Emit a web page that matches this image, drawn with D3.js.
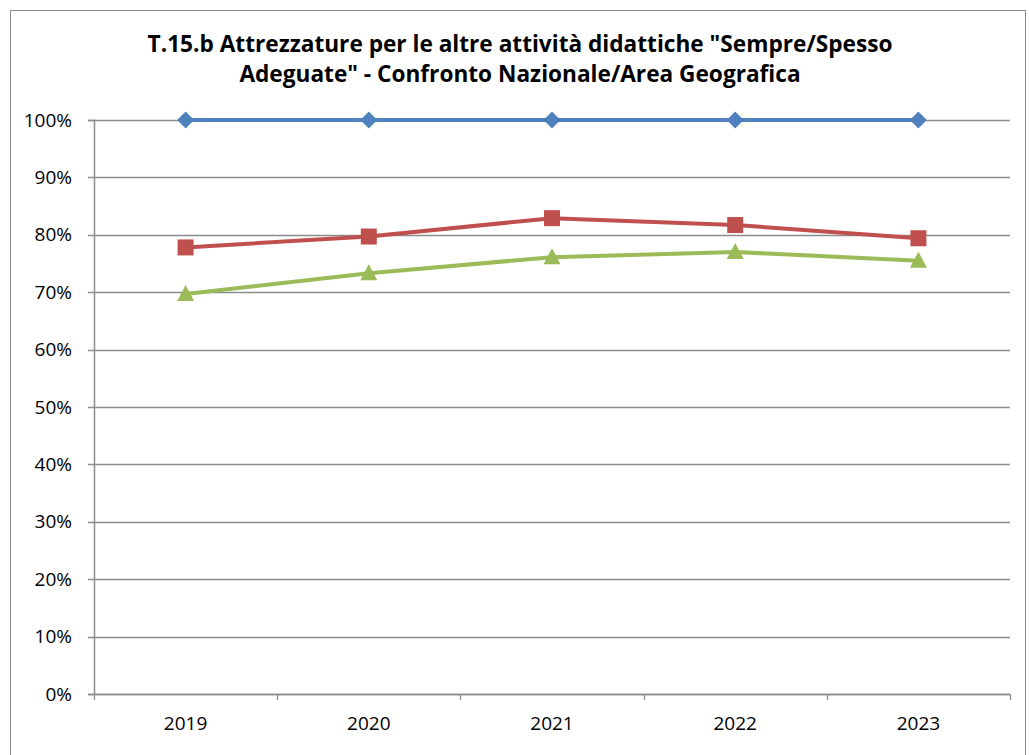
<!DOCTYPE html>
<html>
<head>
<meta charset="utf-8">
<script src="https://cdn.jsdelivr.net/npm/d3@7"></script>
<style>
  body { margin: 0; background: #fff; }
  svg { display: block; font-family: "Open Sans", sans-serif; }
</style>
</head>
<body>
<svg id="chart" width="1029" height="755"></svg>
<script>
const years = ['2019', '2020', '2021', '2022', '2023'];
const nazionale = [1.0, 1.0, 1.0, 1.0, 1.0];
const area = [0.778, 0.797, 0.829, 0.817, 0.794];
const regione = [0.697, 0.733, 0.761, 0.770, 0.755];
const yTicks = [0, 0.1, 0.2, 0.3, 0.4, 0.5, 0.6, 0.7, 0.8, 0.9, 1.0];
const titleLines = ['T.15.b Attrezzature per le altre attività didattiche "Sempre/Spesso', 'Adeguate" - Confronto Nazionale/Area Geografica'];

const series = [
  { name: 'Nazionale', values: nazionale, color: '#4F81BD', shape: 'diamond' },
  { name: 'Area', values: area, color: '#C0504D', shape: 'square' },
  { name: 'Regione', values: regione, color: '#9BBB59', shape: 'triangle' }
];

const svg = d3.select('#chart');

// outer chart frame
svg.append('rect')
  .attr('x', 10.5).attr('y', 10.5)
  .attr('width', 1015).attr('height', 760)
  .attr('fill', '#fff')
  .attr('stroke', '#8c8c8c')
  .attr('stroke-width', 1);

const margin = { top: 120, right: 19, bottom: 61, left: 94 };
const width = 1029 - margin.left - margin.right;
const height = 755 - margin.top - margin.bottom;

const g = svg.append('g')
  .attr('transform', `translate(${margin.left},${margin.top})`);

const x = d3.scaleBand()
  .domain(years)
  .range([0, width]);

const y = d3.scaleLinear()
  .domain([0, 1])
  .range([height, 0]);

// gridlines
g.append('g')
  .selectAll('line')
  .data(yTicks)
  .join('line')
  .attr('x1', -6).attr('x2', width)
  .attr('y1', d => Math.round(y(d)) + 0.5)
  .attr('y2', d => Math.round(y(d)) + 0.5)
  .attr('stroke', '#8c8c8c')
  .attr('stroke-width', 1.3);

// y axis
const yAxis = g.append('g')
  .call(d3.axisLeft(y).tickValues(yTicks).tickFormat(d3.format('.0%')).tickSize(6).tickPadding(16));
yAxis.attr('font-family', null).attr('font-size', 19);
yAxis.select('.domain').attr('stroke', '#8c8c8c').attr('stroke-width', 1.5);
yAxis.selectAll('.tick line').remove();
yAxis.selectAll('text').attr('fill', '#000');

// x axis
const xAxis = g.append('g')
  .attr('transform', `translate(0,${height})`)
  .call(d3.axisBottom(x).tickSize(0).tickPadding(23));
xAxis.attr('font-family', null).attr('font-size', 19);
xAxis.select('.domain').attr('stroke', '#8c8c8c').attr('stroke-width', 1.5);
xAxis.selectAll('text').attr('fill', '#000');

// category separators on x axis
g.append('g')
  .selectAll('line')
  .data(years.concat(['end']))
  .join('line')
  .attr('x1', (d, i) => Math.round(i * x.step()) + 0.5)
  .attr('x2', (d, i) => Math.round(i * x.step()) + 0.5)
  .attr('y1', height).attr('y2', height + 6)
  .attr('stroke', '#8c8c8c')
  .attr('stroke-width', 1.3);

const cx = d => x(d) + x.bandwidth() / 2;

const markerPath = {
  diamond: 'M0,-8.5L8.5,0L0,8.5L-8.5,0Z',
  square: 'M-8,-8H8V8H-8Z',
  triangle: 'M0,-9L8.5,7H-8.5Z'
};

series.forEach(s => {
  const pts = years.map((yr, i) => [cx(yr), y(s.values[i])]);
  g.append('path')
    .datum(pts)
    .attr('fill', 'none')
    .attr('stroke', s.color)
    .attr('stroke-width', 4)
    .attr('stroke-linejoin', 'round')
    .attr('d', d3.line());

  g.append('g')
    .selectAll('path')
    .data(pts)
    .join('path')
    .attr('transform', d => `translate(${d[0]},${d[1]})`)
    .attr('d', markerPath[s.shape])
    .attr('fill', s.color);
});

// title (Calibri-like proportions: squeeze height, stretch width)
const title = svg.append('text')
  .attr('text-anchor', 'middle')
  .attr('font-weight', 'bold')
  .attr('font-size', 24)
  .attr('fill', '#000');

title.selectAll('tspan')
  .data(titleLines)
  .join('tspan')
  .attr('x', 0)
  .attr('y', (d, i) => 52 + i * 30)
  .text(d => d);

const tw = title.select('tspan').node().getComputedTextLength();
title.attr('transform', `translate(520,0) scale(${745 / tw},1)`);
</script>
</body>
</html>
